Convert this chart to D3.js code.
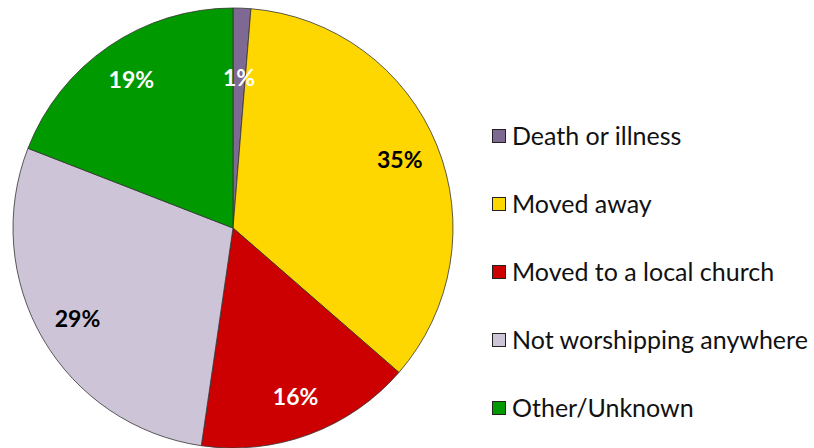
<!DOCTYPE html>
<html>
<head>
<meta charset="utf-8">
<script src="https://cdn.jsdelivr.net/npm/d3@7"></script>
<style>
  body { margin: 0; background: #fff; }
  svg { display: block; font-family: Lato, "Open Sans", sans-serif; }
</style>
</head>
<body>
<div id="chart"></div>
<script>
// slice data, clockwise from 12 o'clock
var categories = ['Death or illness', 'Moved away', 'Moved to a local church', 'Not worshipping anywhere', 'Other/Unknown'];
var values = [1.3, 35.1, 15.9, 28.6, 19.1];
var labels = ['1%', '35%', '16%', '29%', '19%'];
var colors = ['#7d6991', '#ffd700', '#cc0000', '#cdc4d8', '#009900'];
var labelColors = ['#fff', '#000', '#fff', '#000', '#fff'];

var WIDTH = 814, HEIGHT = 448,
    CX = 233, CY = 228, R = 220;

var svg = d3.select('#chart').append('svg')
    .attr('width', WIDTH)
    .attr('height', HEIGHT);

var pie = d3.pie().sort(null).value(function(d){ return d; });
var arcs = pie(values);

var arc = d3.arc().innerRadius(0).outerRadius(R);
var labelArc = d3.arc().innerRadius(180).outerRadius(180);
var smallLabelArc = d3.arc().innerRadius(150).outerRadius(150);

var g = svg.append('g').attr('transform', 'translate(' + CX + ',' + CY + ')');

g.selectAll('path')
    .data(arcs)
    .enter().append('path')
    .attr('d', arc)
    .attr('fill', function(d, i){ return colors[i]; })
    .attr('stroke', '#333')
    .attr('stroke-width', 0.8);

g.selectAll('text.lbl')
    .data(arcs)
    .enter().append('text')
    .attr('class', 'lbl')
    .attr('transform', function(d){
        var a = (d.endAngle - d.startAngle) < 0.2 ? smallLabelArc : labelArc;
        return 'translate(' + a.centroid(d) + ')';
    })
    .attr('text-anchor', 'middle')
    .attr('dy', '0.36em')
    .attr('font-size', 23)
    .attr('font-weight', 'bold')
    .attr('fill', function(d, i){ return labelColors[i]; })
    .text(function(d, i){ return labels[i]; });

// legend
var legendY = d3.scalePoint().domain(categories).range([136, 408]);

var legend = svg.append('g').selectAll('g')
    .data(categories)
    .enter().append('g')
    .attr('transform', function(d){ return 'translate(492,' + legendY(d) + ')'; });

legend.append('rect')
    .attr('x', 0.5).attr('y', -6.5)
    .attr('width', 13).attr('height', 13)
    .attr('fill', function(d, i){ return colors[i]; })
    .attr('stroke', '#222')
    .attr('stroke-width', 1);

legend.append('text')
    .attr('x', 20)
    .attr('dy', '0.35em')
    .attr('font-size', 25)
    .attr('fill', '#111')
    .text(function(d){ return d; });
</script>
</body>
</html>
